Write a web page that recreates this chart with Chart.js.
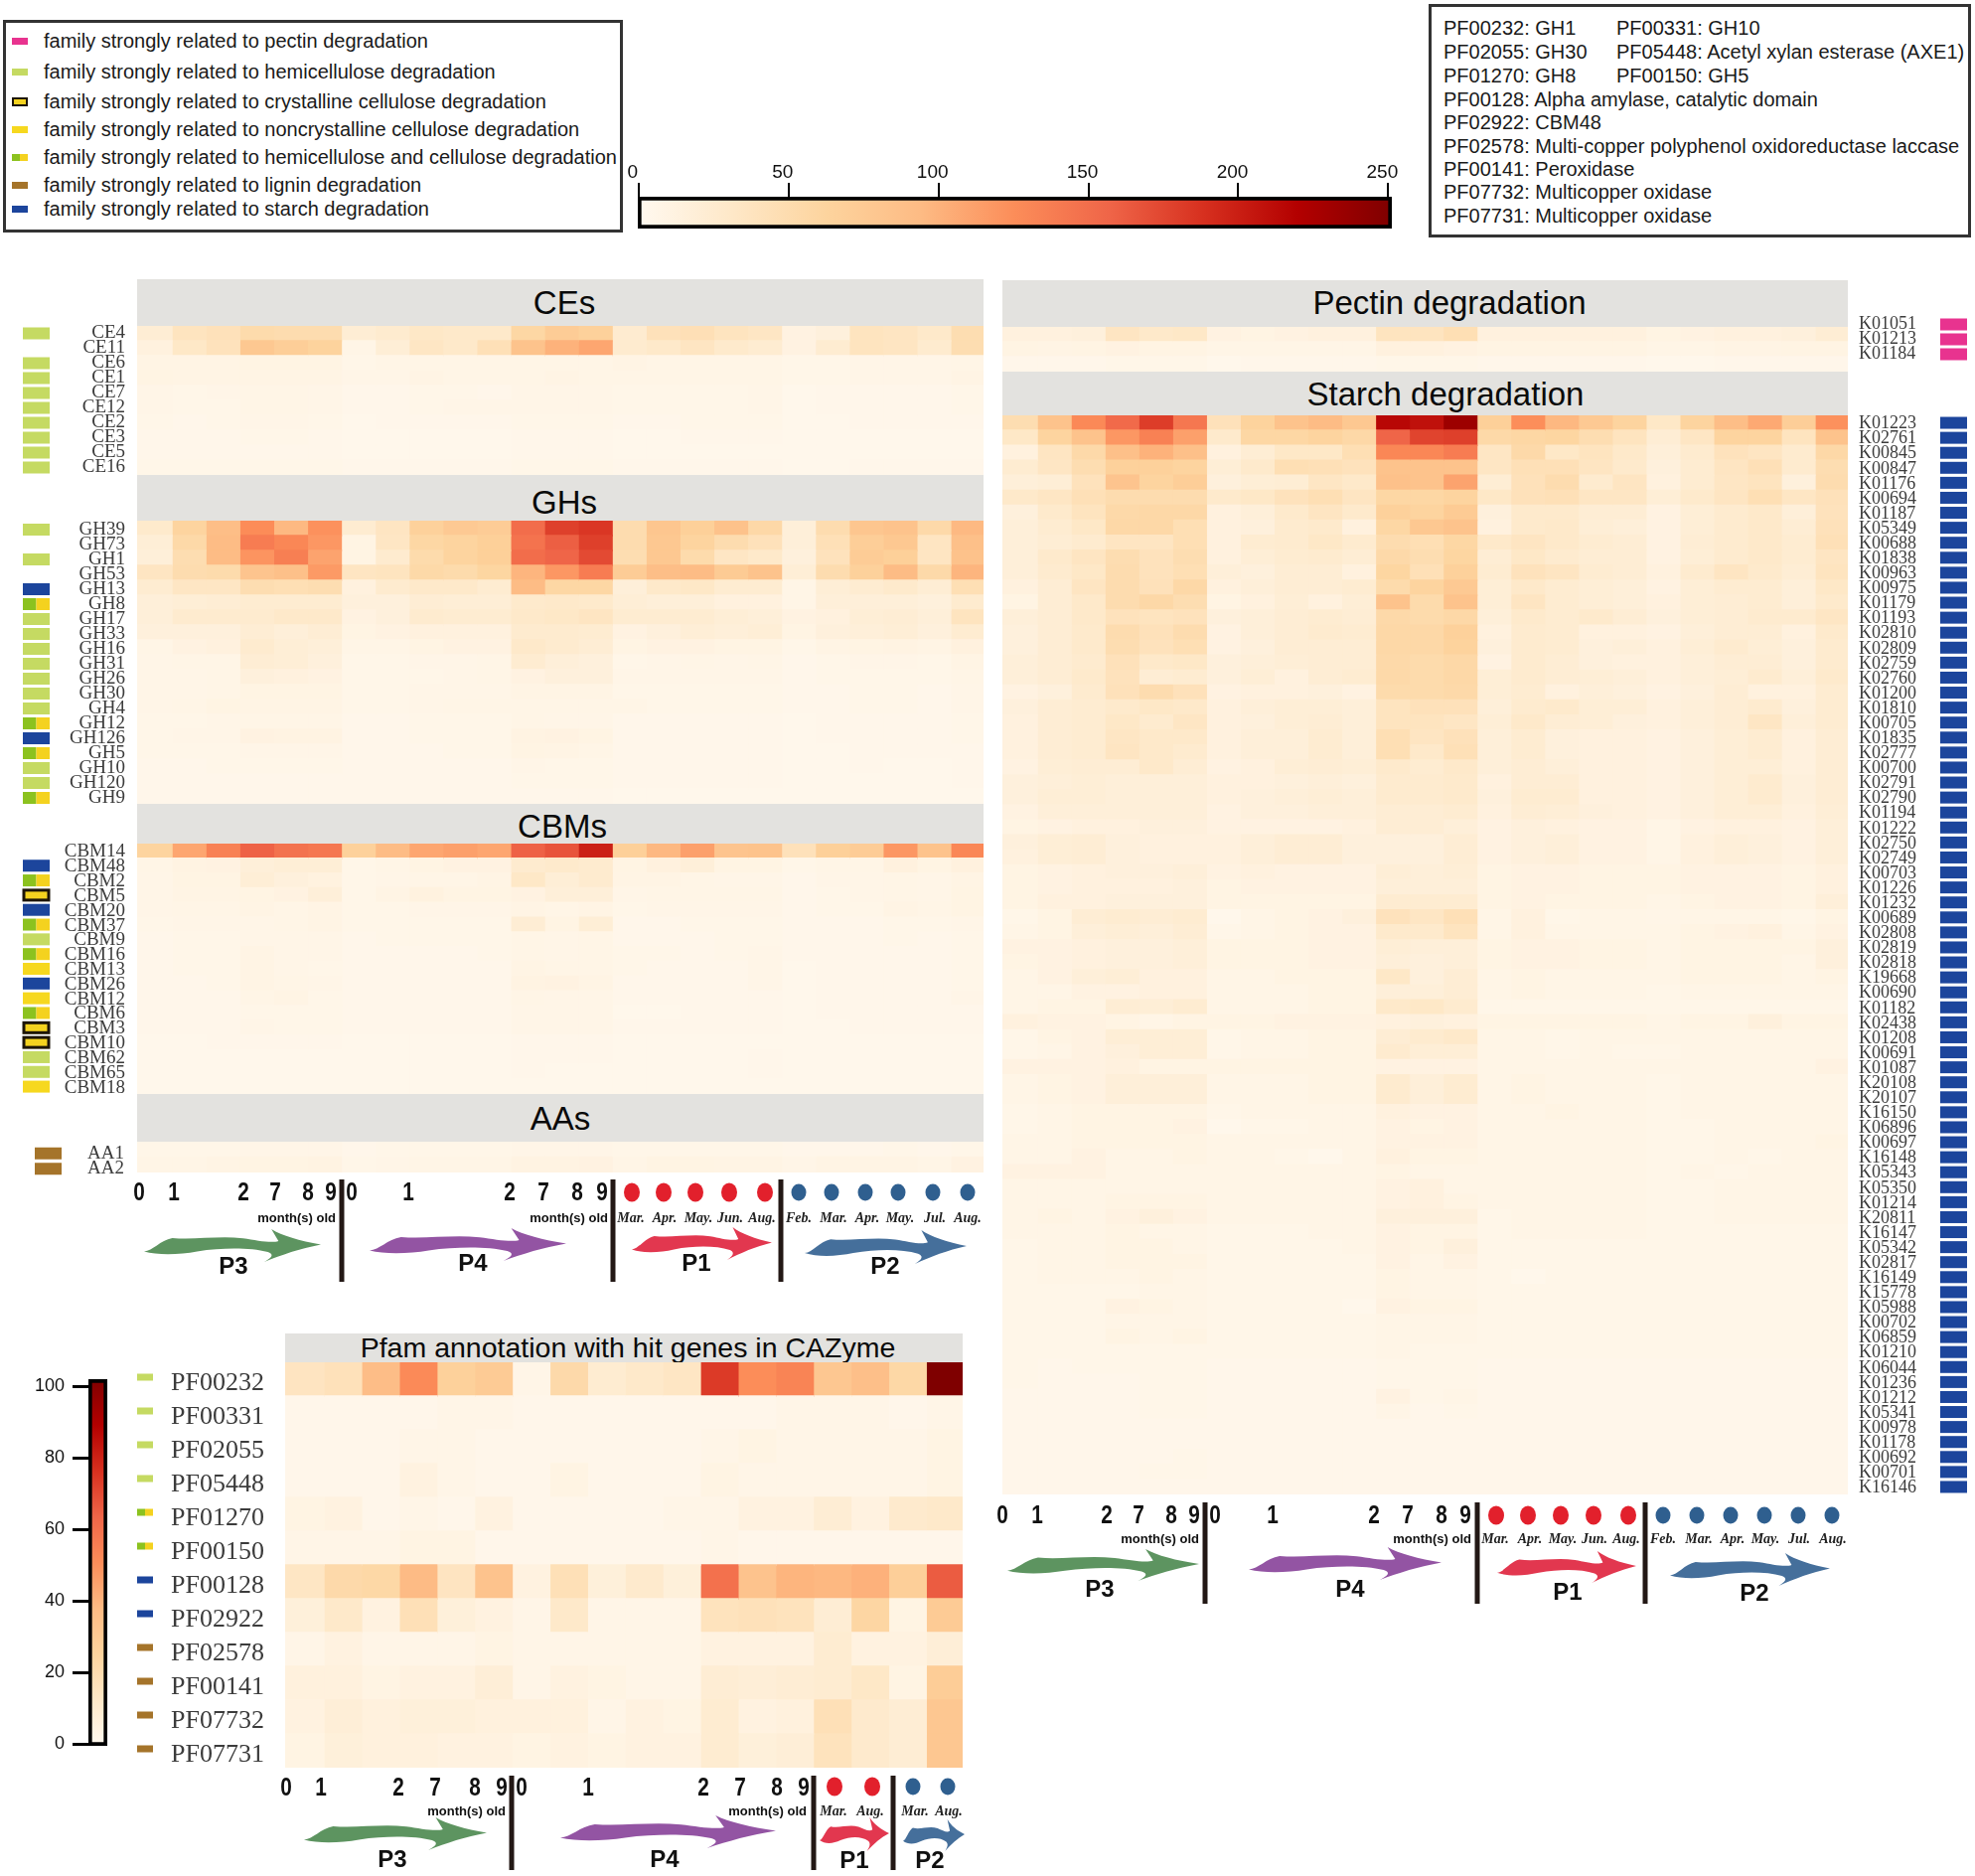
<!DOCTYPE html>
<html>
<head>
<meta charset="utf-8">
<title>CAZyme heatmaps</title>
<script src="https://cdn.jsdelivr.net/npm/chart.js@4"></script>
<style>
  html, body { margin: 0; padding: 0; background: #fff; }
  #page { position: relative; width: 1988px; height: 1888px; overflow: hidden; font-family: "Liberation Sans", sans-serif; color: #111; }
  .holder { position: absolute; }
  .band { position: absolute; background: #e3e2df; overflow: visible; }
  .band span { position: absolute; transform: translate(-50%, -50%); white-space: nowrap; color: #0a0a0a; }
  .box { position: absolute; border: 3px solid #333; box-sizing: border-box; background: #fff; }
  .line { position: absolute; white-space: nowrap; transform: translateY(-50%); color: #1a1a1a; }
  .swatch { position: absolute; }
  svg { position: absolute; left: 0; top: 0; }
</style>
</head>
<body>
<div id="page"></div>
<script>
// colour ramp, low to high
const rampColors = ["#fff9f0", "#fee8c8", "#fdd49e", "#fdbb84", "#fc8d59", "#ef6548", "#d7301f", "#b30000", "#7f0000"];

const colLabels = ["P3-0", "P3-1", "P3-2", "P3-7", "P3-8", "P3-9",
  "P4-a", "P4-b", "P4-c", "P4-d", "P4-e", "P4-f", "P4-g", "P4-h",
  "P1-Mar", "P1-Apr", "P1-May", "P1-Jun", "P1-Aug",
  "P2-Feb", "P2-Mar", "P2-Apr", "P2-May", "P2-Jul", "P2-Aug"];

const ceLabels = ["CE4", "CE11", "CE6", "CE1", "CE7", "CE12", "CE2", "CE3", "CE5", "CE16"];
const ceMarks = ["hemi", "", "hemi", "hemi", "hemi", "hemi", "hemi", "hemi", "hemi", "hemi"];
const ceValues = [
  [22,38,42,52,50,50,22,26,32,30,30,58,72,66,25,42,45,38,34,12,16,38,36,30,48],
  [14,32,40,78,70,64,8,20,34,30,44,84,100,108,26,30,36,28,24,12,24,38,36,26,48],
  [9,9,9,10,10,10,6,8,8,8,8,8,8,8,9,8,8,8,8,6,6,7,7,7,8],
  [10,9,9,9,9,9,7,7,9,8,8,8,9,8,8,8,8,8,8,6,6,7,7,7,9],
  [7,6,7,8,8,7,5,5,6,6,5,7,7,7,6,6,6,6,7,4,5,5,5,5,6],
  [7,6,6,8,8,7,5,5,6,7,7,7,7,7,6,6,6,6,7,4,5,5,5,5,6],
  [6,5,6,7,7,6,4,5,5,5,5,6,6,6,5,5,6,6,6,4,4,5,5,5,5],
  [5,5,5,6,6,5,4,4,4,4,4,5,5,5,4,4,5,5,5,4,4,4,4,4,4],
  [5,5,5,5,5,5,4,4,4,4,4,5,5,5,4,4,4,4,4,4,4,4,4,4,4],
  [6,6,6,6,6,6,5,5,5,5,5,6,6,6,5,5,5,5,5,4,4,5,5,5,5]
];

const ghLabels = ["GH39", "GH73", "GH1", "GH53", "GH13", "GH8", "GH17", "GH33", "GH16", "GH31", "GH26", "GH30", "GH4", "GH12", "GH126", "GH5", "GH10", "GH120", "GH9"];
const ghMarks = ["hemi", "", "hemi", "", "starch", "both", "hemi", "hemi", "hemi", "hemi", "hemi", "hemi", "hemi", "both", "starch", "both", "hemi", "hemi", "both"];
const ghValues = [
  [28,62,90,126,95,122,24,36,66,76,72,150,178,184,50,80,68,85,56,18,50,80,84,54,95],
  [20,55,92,138,130,118,10,34,58,62,68,145,160,178,50,78,62,50,42,18,44,70,78,36,88],
  [18,48,92,120,136,110,10,26,52,62,68,150,156,172,48,78,52,34,30,16,40,72,68,36,85],
  [36,50,52,82,88,116,36,38,55,52,60,98,118,138,72,90,92,74,84,20,50,66,92,54,98],
  [24,34,34,48,46,48,14,26,30,30,24,92,58,58,18,30,32,24,24,8,20,24,28,22,46],
  [18,20,22,24,24,24,16,16,22,20,20,28,30,28,20,18,18,14,14,8,18,18,18,16,26],
  [18,26,26,26,30,30,12,16,26,24,24,30,32,36,24,24,24,20,18,12,14,20,22,18,38],
  [16,16,16,22,18,22,10,12,14,14,14,26,26,24,12,16,20,18,20,10,16,18,20,16,24],
  [8,12,14,26,20,18,8,8,10,12,12,30,26,22,10,12,12,10,10,6,9,10,11,9,14],
  [7,8,8,22,20,16,6,6,7,7,8,24,18,16,6,7,8,7,8,5,6,7,7,6,9],
  [7,7,8,16,14,12,6,6,6,7,8,12,16,16,7,7,7,7,7,5,6,6,6,6,8],
  [7,7,8,10,10,10,6,6,7,7,7,9,9,9,6,6,6,6,6,5,5,6,6,5,7],
  [7,8,10,9,9,9,6,6,7,8,8,8,8,8,8,6,6,6,6,5,5,6,6,5,7],
  [6,6,7,8,8,8,5,5,6,6,6,8,7,7,5,5,5,5,5,4,5,5,5,5,6],
  [6,7,7,12,11,11,5,5,6,6,6,11,12,10,5,5,5,5,5,4,5,5,5,5,6],
  [6,6,6,7,7,7,5,5,5,6,6,10,9,8,5,5,5,5,5,4,4,5,5,5,5],
  [5,5,6,6,6,6,5,5,5,5,5,7,6,6,5,5,5,5,5,4,4,5,4,4,5],
  [5,5,5,5,5,5,5,5,5,5,5,6,6,6,5,5,5,5,5,4,4,4,4,4,5],
  [5,5,5,5,5,5,5,5,5,5,5,5,5,5,4,4,4,4,4,4,4,4,4,4,4]
];

const cbmLabels = ["CBM14", "CBM48", "CBM2", "CBM5", "CBM20", "CBM37", "CBM9", "CBM16", "CBM13", "CBM26", "CBM12", "CBM6", "CBM3", "CBM10", "CBM62", "CBM65", "CBM18"];
const cbmMarks = ["", "starch", "both", "crystal", "starch", "both", "hemi", "both", "non", "starch", "non", "both", "crystal", "crystal", "hemi", "hemi", "non"];
const cbmValues = [
  [62,108,134,158,146,142,66,92,108,112,108,158,166,198,68,96,112,82,84,42,68,72,118,84,130],
  [8,11,12,18,20,20,6,8,10,12,12,26,28,26,10,14,18,10,10,6,8,8,14,10,14],
  [7,10,10,20,16,13,6,7,8,8,9,32,20,26,9,9,8,7,7,5,7,7,8,7,9],
  [7,9,9,10,12,18,6,9,13,10,10,12,18,18,7,8,8,8,8,5,6,7,8,7,10],
  [7,8,8,9,8,9,6,6,7,7,7,9,8,9,6,7,7,7,7,5,6,6,9,8,10],
  [6,7,7,7,8,9,6,6,6,6,6,22,10,20,5,5,6,6,6,5,5,5,6,6,7],
  [5,6,6,7,7,7,5,6,6,6,6,8,7,8,5,5,5,6,6,5,5,5,6,5,6],
  [5,6,6,9,7,7,5,5,5,5,6,8,7,8,6,6,5,6,7,5,5,5,5,5,6],
  [5,6,6,9,7,6,5,5,5,5,5,9,8,8,6,5,5,5,7,4,5,5,5,5,6],
  [5,5,6,9,8,7,5,5,5,5,5,11,12,9,5,5,5,5,7,4,5,5,5,5,6],
  [5,5,5,8,9,6,5,5,5,5,5,8,7,7,5,5,5,5,5,4,5,5,5,5,7],
  [5,5,5,6,6,6,5,5,5,5,5,7,7,7,4,4,5,5,5,4,5,5,5,5,5],
  [5,5,5,7,6,6,5,5,5,5,5,7,7,7,5,5,5,5,5,4,4,5,5,5,5],
  [4,4,5,5,5,5,4,4,4,4,4,5,5,5,4,4,4,4,4,4,4,4,4,4,4],
  [4,4,4,4,4,4,4,4,4,4,4,5,5,5,4,4,4,4,5,4,4,4,4,4,4],
  [4,4,4,4,4,4,4,4,4,4,4,5,4,4,4,4,4,4,5,4,4,4,4,4,4],
  [4,4,4,4,4,4,4,4,4,4,4,4,4,4,4,4,4,4,4,4,4,4,4,4,4]
];

const aaLabels = ["AA1", "AA2"];
const aaMarks = ["lignin", "lignin"];
const aaValues = [
  [6,6,6,7,7,7,5,6,6,6,6,7,7,7,6,6,6,6,6,5,5,5,6,5,6],
  [8,8,9,10,10,11,6,7,8,8,8,11,11,12,8,10,10,9,9,7,9,9,9,8,12]
];

const pectinLabels = ["K01051", "K01213", "K01184"];
const pectinValues = [
  [14,14,16,36,30,32,12,10,12,14,14,38,38,46,14,14,14,14,14,10,12,14,14,16,22],
  [10,9,10,12,10,10,8,8,8,8,8,14,14,12,10,10,10,10,10,8,8,9,9,10,10],
  [5,5,5,6,6,6,4,5,5,5,5,6,6,6,5,5,5,5,5,4,4,5,5,5,5]
];

const starchLabels = ["K01223", "K02761", "K00845", "K00847", "K01176", "K00694", "K01187", "K05349", "K00688", "K01838", "K00963", "K00975", "K01179", "K01193", "K02810", "K02809", "K02759", "K02760", "K01200", "K01810", "K00705", "K01835", "K02777", "K00700", "K02791", "K02790", "K01194", "K01222", "K02750", "K02749", "K00703", "K01226", "K01232", "K00689", "K02808", "K02819", "K02818", "K19668", "K00690", "K01182", "K02438", "K01208", "K00691", "K01087", "K20108", "K20107", "K16150", "K06896", "K00697", "K16148", "K05343", "K05350", "K01214", "K20811", "K16147", "K05342", "K02817", "K16149", "K15778", "K05988", "K00702", "K06859", "K01210", "K06044", "K01236", "K01212", "K05341", "K00978", "K01178", "K00692", "K00701", "K16146"];
const starchValues = [
  [48,84,128,152,180,142,42,64,84,92,78,214,208,232,68,124,96,76,62,32,62,90,106,70,122],
  [32,62,84,118,134,112,28,58,58,62,56,156,176,178,55,58,60,48,38,22,34,62,62,38,84],
  [14,36,54,88,100,88,14,22,32,32,46,130,130,138,34,54,32,38,30,18,26,40,36,26,56],
  [24,34,48,66,66,62,20,28,46,44,40,84,84,84,34,44,44,36,28,16,24,36,44,26,48],
  [18,20,40,82,62,70,16,20,22,34,30,86,84,110,22,42,50,26,36,14,24,34,38,16,50],
  [30,34,44,50,50,50,28,32,40,46,36,58,58,62,32,42,44,34,34,20,28,36,46,34,42],
  [16,28,38,54,56,56,14,18,28,36,28,66,62,74,16,28,28,22,22,12,20,26,30,18,40],
  [18,24,32,56,56,46,14,16,26,28,14,58,78,84,14,28,30,20,18,12,20,26,30,22,42],
  [18,22,26,36,36,46,14,24,26,32,26,50,46,58,30,36,30,24,22,12,22,26,30,24,44],
  [18,28,36,48,40,48,14,20,24,26,22,54,48,60,22,32,26,22,22,12,20,26,30,24,36],
  [18,26,32,50,40,46,18,16,22,22,14,60,44,66,24,40,36,24,22,14,26,36,28,22,38],
  [14,22,36,50,42,56,14,18,22,22,24,52,62,76,20,30,24,20,18,12,20,24,24,18,32],
  [10,22,30,50,56,48,10,14,20,14,20,84,52,84,20,36,24,20,18,14,20,22,24,18,28],
  [18,22,30,40,38,40,16,18,22,24,22,54,52,56,18,28,24,28,22,16,20,22,26,26,34],
  [16,22,28,50,42,50,12,18,22,26,24,56,56,66,14,26,24,14,14,12,18,22,22,14,28],
  [16,22,28,48,40,46,12,16,22,22,22,56,56,64,16,26,24,16,18,14,20,26,20,16,26],
  [18,22,26,42,30,32,16,18,20,22,22,54,52,56,12,26,22,16,14,14,18,22,22,16,26],
  [18,22,28,40,22,24,16,20,14,22,24,54,52,56,20,26,22,20,18,14,18,20,26,18,28],
  [12,16,26,42,50,42,12,14,14,16,12,52,52,54,20,24,14,18,16,12,16,22,14,14,24],
  [16,22,24,28,32,30,14,18,20,20,18,38,42,42,18,26,28,20,20,14,18,22,26,16,24],
  [14,22,24,32,26,34,14,16,20,22,18,38,38,34,20,30,22,20,16,14,18,22,34,18,24],
  [14,22,24,34,30,30,14,18,18,24,18,46,36,42,18,24,16,14,14,12,16,20,24,14,22],
  [14,22,24,36,30,26,14,18,18,24,18,46,30,44,18,24,16,14,14,12,16,20,24,14,22],
  [12,20,22,22,30,22,12,14,20,22,20,28,24,30,18,22,18,14,14,12,16,20,20,14,22],
  [16,18,20,18,18,18,14,14,16,18,16,26,26,28,14,22,22,14,14,12,16,20,26,16,22],
  [16,20,20,18,18,18,14,16,18,20,18,26,26,28,16,24,24,14,14,12,16,20,26,16,22],
  [12,18,18,18,18,18,12,16,16,18,18,22,22,24,14,22,20,16,14,12,16,20,20,14,20],
  [10,12,14,14,16,16,12,12,12,12,14,22,22,18,12,16,14,12,12,8,12,14,14,12,18],
  [16,20,22,16,14,14,14,18,22,22,16,16,16,22,12,16,18,12,12,8,14,18,16,12,18],
  [14,20,22,16,14,14,14,18,22,22,16,16,16,22,12,16,18,12,12,8,14,18,16,12,18],
  [10,12,14,16,16,18,12,14,12,12,12,20,18,20,10,12,12,10,10,10,12,12,12,10,14],
  [10,12,14,14,14,16,10,12,12,12,12,18,18,18,10,12,12,10,10,10,12,12,12,10,14],
  [10,14,14,16,16,16,10,10,10,10,10,24,24,24,10,12,10,10,10,8,10,12,12,10,18],
  [6,10,22,24,22,24,4,8,10,12,16,40,34,44,8,14,6,8,8,7,8,8,8,6,10],
  [8,10,18,20,18,22,6,8,10,12,12,28,28,38,8,14,8,8,8,8,10,12,14,8,12],
  [12,12,14,16,16,18,10,10,10,12,12,20,18,18,10,12,12,10,10,8,10,10,10,10,16],
  [10,12,14,16,16,18,10,10,10,12,12,18,16,18,10,12,12,10,10,8,10,10,10,8,16],
  [8,12,18,20,14,14,8,8,10,10,10,32,16,22,8,10,8,8,8,8,10,10,10,8,10],
  [8,8,12,12,14,14,8,8,8,10,10,18,18,22,8,10,8,8,8,6,8,8,8,8,8],
  [8,10,10,22,20,24,8,8,8,10,10,30,32,26,6,6,6,6,6,6,6,6,6,6,6],
  [14,12,12,10,8,10,10,10,12,12,12,14,16,14,10,10,10,10,10,8,10,10,16,10,10],
  [6,10,12,20,20,20,6,8,8,10,10,22,26,30,8,8,6,8,8,8,8,8,8,8,8],
  [6,8,12,16,20,20,6,8,8,10,10,26,20,20,8,8,6,8,6,6,8,8,8,8,8],
  [12,12,12,14,10,10,10,10,10,10,10,12,12,12,8,8,8,8,8,8,8,8,8,8,12],
  [8,10,12,18,18,18,8,8,8,10,10,26,18,24,8,10,8,8,8,6,8,8,8,8,8],
  [8,10,12,18,18,18,8,8,8,10,10,26,18,24,8,10,8,8,8,6,8,8,8,8,8],
  [6,8,10,10,10,10,6,8,8,8,8,14,12,12,8,8,10,8,8,6,8,8,8,8,8],
  [6,8,10,10,10,12,4,6,6,8,8,12,10,12,8,8,8,8,8,6,6,8,8,8,8],
  [8,8,10,10,10,10,8,8,8,8,8,12,12,12,8,8,8,8,8,6,6,8,8,8,10],
  [8,8,12,8,8,10,8,8,6,4,8,14,10,10,8,8,8,8,8,6,6,8,6,8,8],
  [12,12,12,8,8,8,8,8,8,8,8,10,8,8,8,8,8,8,8,6,8,6,8,8,8],
  [8,8,8,8,8,8,8,8,8,8,8,12,14,8,8,8,8,8,8,6,6,8,8,8,8],
  [8,8,8,10,10,10,8,8,8,8,8,12,14,10,8,8,8,8,8,6,6,8,8,8,8],
  [8,10,8,12,16,12,8,8,8,8,8,16,16,16,6,8,8,8,8,6,6,8,8,8,8],
  [8,8,8,10,8,8,6,6,6,8,8,12,10,10,6,8,8,8,8,6,6,6,6,6,6],
  [6,8,8,10,10,8,6,6,6,6,8,12,10,16,6,6,6,6,6,6,6,6,6,6,6],
  [6,8,8,10,10,10,6,6,6,6,6,12,8,12,6,6,6,6,6,6,6,6,6,6,6],
  [6,8,8,8,10,8,6,6,6,6,6,10,8,8,6,4,6,6,6,6,6,6,6,6,6],
  [6,6,6,6,8,8,6,6,6,6,6,10,8,8,6,6,6,6,6,6,6,6,6,6,6],
  [6,6,6,12,10,8,6,6,6,6,4,12,10,10,6,6,6,6,6,6,6,6,6,6,6],
  [6,6,6,8,8,8,6,6,6,6,6,8,8,8,6,6,6,6,6,6,6,6,6,6,6],
  [6,6,6,10,8,10,6,6,6,6,6,8,8,8,6,6,6,6,6,6,6,6,6,6,6],
  [6,6,6,6,6,6,6,6,6,6,6,8,6,6,6,6,6,6,6,6,6,6,6,6,6],
  [6,5,6,6,6,6,5,5,5,5,5,6,6,6,5,5,5,5,5,5,5,5,5,5,5],
  [6,5,5,5,6,6,5,5,5,5,5,6,6,6,5,5,5,5,5,5,5,5,5,5,5],
  [5,5,5,5,6,6,5,5,5,5,5,12,6,8,5,5,5,5,5,5,5,5,5,5,5],
  [5,5,5,5,6,6,5,5,5,5,5,8,5,6,5,5,5,5,5,5,5,5,5,5,5],
  [5,5,5,5,5,5,5,5,5,5,5,5,5,5,5,5,5,5,5,5,5,5,5,5,5],
  [5,5,5,5,5,5,5,5,5,5,5,5,5,5,5,5,5,5,5,5,5,5,5,5,5],
  [5,5,5,5,5,6,5,5,5,5,5,5,5,5,5,5,5,5,5,5,5,5,5,5,5],
  [5,5,5,5,6,6,5,5,5,5,5,5,5,5,5,5,5,5,5,5,5,5,5,5,5],
  [5,5,5,5,5,5,5,5,5,5,5,5,5,5,5,5,5,5,5,5,5,5,5,5,5]
];

const pfamLabels = ["PF00232", "PF00331", "PF02055", "PF05448", "PF01270", "PF00150", "PF00128", "PF02922", "PF02578", "PF00141", "PF07732", "PF07731"];
const pfamMarks = ["hemi", "hemi", "hemi", "hemi", "both", "both", "starch", "starch", "lignin", "lignin", "lignin", "lignin"];
const pfamValues = [
  [15,17,37,52,27,30,3,22,10,12,14,74,51,54,32,36,23,102],
  [2,2,2,2,3,3,2,2,2,2,2,2,2,3,3,3,2,3],
  [2,2,2,3,3,2,2,2,2,2,2,3,4,3,3,3,3,4],
  [2,2,2,5,3,2,2,4,2,2,2,4,3,3,3,3,3,4],
  [4,5,2,3,2,5,2,2,2,2,3,3,5,5,9,5,11,12],
  [3,3,3,4,4,2,2,2,2,2,2,3,2,2,2,2,2,2],
  [14,22,23,38,15,34,5,18,7,11,7,60,34,40,39,41,28,66],
  [7,12,5,18,7,5,3,12,3,3,3,16,17,16,9,24,4,30],
  [3,5,3,3,3,4,3,3,3,3,3,5,5,5,10,5,5,8],
  [6,6,4,5,5,8,3,5,4,3,3,9,8,9,10,13,4,29],
  [5,8,6,7,7,6,6,6,3,5,4,10,5,6,18,11,9,32],
  [4,7,6,6,5,5,4,5,4,5,5,10,7,8,16,11,9,32]
];

const topBarTicks = [0, 50, 100, 150, 200, 250];
const sideBarTicks = [0, 20, 40, 60, 80, 100];

const legendTexts = [
  ["pectin", "family strongly related to pectin degradation"],
  ["hemi", "family strongly related to hemicellulose degradation"],
  ["crystal", "family strongly related to crystalline cellulose degradation"],
  ["non", "family strongly related to noncrystalline cellulose degradation"],
  ["both", "family strongly related to hemicellulose and cellulose degradation"],
  ["lignin", "family strongly related to lignin degradation"],
  ["starch", "family strongly related to starch degradation"]
];
const pfamNotes = [
  ["PF00232: GH1", "PF00331: GH10"],
  ["PF02055: GH30", "PF05448: Acetyl xylan esterase (AXE1)"],
  ["PF01270: GH8", "PF00150: GH5"],
  ["PF00128: Alpha amylase, catalytic domain"],
  ["PF02922: CBM48"],
  ["PF02578: Multi-copper polyphenol oxidoreductase laccase"],
  ["PF00141: Peroxidase"],
  ["PF07732: Multicopper oxidase"],
  ["PF07731: Multicopper oxidase"]
];

const page = document.getElementById("page");
const markColors = { hemi: "#c5da62", starch: "#1c459c", non: "#f6d81f", crystal: "#f4d21f", lignin: "#a5742a", pectin: "#e8338f" };
const headroom = 14;

function lerpColor(v, max) {
  const t = Math.max(0, Math.min(1, v / max)) * (rampColors.length - 1);
  const i = Math.min(rampColors.length - 2, Math.floor(t));
  const f = t - i;
  const a = rampColors[i], b = rampColors[i + 1];
  const ch = (s, p) => parseInt(s.substr(p, 2), 16);
  const mix = (p) => Math.round(ch(a, p) + (ch(b, p) - ch(a, p)) * f);
  return "rgb(" + mix(1) + "," + mix(3) + "," + mix(5) + ")";
}

function addCanvas(left, top, width, height) {
  const holder = document.createElement("div");
  holder.className = "holder";
  holder.style.cssText = "left:" + left + "px;top:" + top + "px;width:" + width + "px;height:" + height + "px";
  const canvas = document.createElement("canvas");
  canvas.width = width;
  canvas.height = height;
  canvas.style.cssText = "display:block;width:" + width + "px;height:" + height + "px";
  holder.appendChild(canvas);
  page.appendChild(holder);
  return canvas;
}

// little coloured tags beside the row labels, placed through the y scale
function rowMarkPlugin(marks, x, w, h, dy) {
  return {
    id: "rowMarks",
    afterDraw(chart) {
      const c = chart.ctx;
      marks.forEach((kind, i) => {
        if (!kind) return;
        const y = chart.scales.y.getPixelForValue(i) - h / 2 + dy;
        if (kind === "both") {
          c.fillStyle = "#8cc21f";
          c.fillRect(x, y, w / 2, h);
          c.fillStyle = "#f4d21f";
          c.fillRect(x + w / 2, y, w / 2, h);
        } else {
          c.fillStyle = markColors[kind];
          c.fillRect(x, y, w, h);
          if (kind === "crystal") {
            c.strokeStyle = "#1d1508";
            c.lineWidth = 3;
            c.strokeRect(x + 1, y + 1, w - 2, h - 2);
          }
        }
      });
    }
  };
}

// one heatmap panel: every column is a dataset of floating horizontal bars
function heatmap(p) {
  const cols = p.values[0].length;
  const canvas = addCanvas(p.left, p.top - headroom, p.labelWidth + p.plotWidth, p.plotHeight + headroom * 2);
  const datasets = [];
  for (let j = 0; j < cols; j++) {
    datasets.push({
      label: p.columns ? p.columns[j] : String(j),
      data: p.values.map(() => [j, j === cols - 1 ? cols : j + 1.04]),
      backgroundColor: p.values.map((r) => lerpColor(r[j], p.max)),
      borderWidth: 0,
      grouped: false,
      barThickness: p.plotHeight / p.labels.length + 0.8
    });
  }
  new Chart(canvas, {
    type: "bar",
    data: { labels: p.labels, datasets: datasets },
    options: {
      indexAxis: "y",
      responsive: false,
      animation: false,
      devicePixelRatio: 1,
      layout: { padding: { top: headroom, bottom: headroom } },
      plugins: { legend: { display: false }, tooltip: { enabled: false }, title: { display: false } },
      scales: {
        x: { type: "linear", display: false, min: 0, max: cols },
        y: {
          position: p.side,
          grid: { display: false, drawTicks: false },
          border: { display: false },
          ticks: {
            autoSkip: false,
            padding: p.tickPad,
            labelOffset: p.labelDy || 0,
            color: "#3c3c3c",
            font: { family: "Liberation Serif", size: p.fontSize }
          },
          afterFit(s) {
            s.width = p.labelWidth;
            s.paddingTop = 0;
            s.paddingBottom = 0;
          }
        }
      }
    },
    plugins: [rowMarkPlugin(p.marks, p.markX, p.markW, p.markH, p.markDy || 0)]
  });
}

function band(left, top, width, height, text, centre, size, dy) {
  const d = document.createElement("div");
  d.className = "band";
  d.style.cssText = "left:" + left + "px;top:" + top + "px;width:" + width + "px;height:" + height + "px";
  const s = document.createElement("span");
  s.textContent = text;
  s.style.cssText = "left:" + (centre - left) + "px;top:" + (height / 2 + (dy || 0)) + "px;font-size:" + size + "px";
  d.appendChild(s);
  page.appendChild(d);
}

// left column
band(138, 281, 852, 47, "CEs", 568, 33);
band(138, 478, 852, 46, "GHs", 568, 33, 5);
band(138, 809, 852, 40, "CBMs", 566, 33, 3);
band(138, 1101, 852, 48, "AAs", 564, 33, 1);
const leftPanel = { left: 0, labelWidth: 138, plotWidth: 852, side: "left", tickPad: 12, fontSize: 19, max: 250, markX: 23, markW: 27, markH: 12, columns: colLabels };
heatmap({ ...leftPanel, top: 328, plotHeight: 150, labels: ceLabels, values: ceValues, marks: ceMarks });
heatmap({ ...leftPanel, top: 524, plotHeight: 285, labels: ghLabels, values: ghValues, marks: ghMarks, labelDy: 2, markDy: 1.5 });
heatmap({ ...leftPanel, top: 849, plotHeight: 252, labels: cbmLabels, values: cbmValues, marks: cbmMarks, labelDy: 1 });
heatmap({ ...leftPanel, top: 1149, plotHeight: 31, labels: aaLabels, values: aaValues, marks: aaMarks, markX: 35, labelDy: 4, markDy: 4, tickPad: 13 });

// right column
band(1009, 282, 851, 47, "Pectin degradation", 1459, 33, -1);
band(1009, 374, 851, 44, "Starch degradation", 1455, 33, 1);
const rightPanel = { left: 1009, labelWidth: 128, plotWidth: 851, side: "right", tickPad: 11, fontSize: 18, max: 250, markX: 944, markW: 27, markH: 12, columns: colLabels };
heatmap({ ...rightPanel, top: 329, plotHeight: 45, labels: pectinLabels, values: pectinValues, marks: pectinLabels.map(() => "pectin"), labelDy: -10, markDy: -10 });
heatmap({ ...rightPanel, top: 418, plotHeight: 1086, labels: starchLabels, values: starchValues, marks: starchLabels.map(() => "starch"), labelDy: 1 });

// pfam block
band(287, 1342, 682, 29, "Pfam annotation with hit genes in CAZyme", 632, 28.5, -1);
heatmap({ left: 130, top: 1371, labelWidth: 157, plotWidth: 682, plotHeight: 408, side: "left", tickPad: 21, fontSize: 26, max: 102, markX: 8, markW: 16, markH: 7, markDy: -2, labelDy: 4, labels: pfamLabels, values: pfamValues, marks: pfamMarks });

// colour bars
function gradientBar(ctx, area, horizontal) {
  const g = horizontal
    ? ctx.createLinearGradient(area.left, 0, area.right, 0)
    : ctx.createLinearGradient(0, area.bottom, 0, area.top);
  rampColors.forEach((c, i) => g.addColorStop(i / (rampColors.length - 1), c));
  return g;
}

new Chart(addCanvas(622, 160, 799, 70), {
  type: "bar",
  data: {
    labels: [""],
    datasets: [{
      data: [[-0.3, 251.2]],
      borderColor: "#000",
      borderWidth: 4,
      borderSkipped: false,
      barPercentage: 1,
      categoryPercentage: 1,
      backgroundColor(c) {
        return c.chart.chartArea ? gradientBar(c.chart.ctx, c.chart.chartArea, true) : "#fff";
      }
    }]
  },
  options: {
    indexAxis: "y",
    responsive: false,
    animation: false,
    devicePixelRatio: 1,
    layout: { padding: { left: 20, right: 20 } },
    plugins: { legend: { display: false }, tooltip: { enabled: false } },
    scales: {
      x: {
        type: "linear",
        position: "top",
        min: -0.3,
        max: 251.2,
        afterBuildTicks(s) { s.ticks = topBarTicks.map((v) => ({ value: v })); },
        afterFit(s) { s.height = 38; },
        grid: { drawOnChartArea: false, color: "#000", lineWidth: 2, tickLength: 14, tickColor: "#000" },
        border: { display: false },
        ticks: { color: "#111", padding: -1, labelOffset: -6, maxRotation: 0, font: { family: "Liberation Sans", size: 19 } }
      },
      y: { display: false }
    }
  }
});

new Chart(addCanvas(30, 1380, 80, 385), {
  type: "bar",
  data: {
    labels: [""],
    datasets: [{
      data: [[-0.5, 102]],
      borderColor: "#000",
      borderWidth: 4,
      borderSkipped: false,
      barPercentage: 1,
      categoryPercentage: 1,
      backgroundColor(c) {
        return c.chart.chartArea ? gradientBar(c.chart.ctx, c.chart.chartArea, false) : "#fff";
      }
    }]
  },
  options: {
    responsive: false,
    animation: false,
    devicePixelRatio: 1,
    layout: { padding: { top: 8, bottom: 8, right: 2 } },
    plugins: { legend: { display: false }, tooltip: { enabled: false } },
    scales: {
      x: { display: false },
      y: {
        type: "linear",
        min: -0.5,
        max: 102,
        afterBuildTicks(s) { s.ticks = sideBarTicks.map((v) => ({ value: v })); },
        afterFit(s) {
          s.width = 59;
          s.paddingTop = 0;
          s.paddingBottom = 0;
        },
        grid: { drawOnChartArea: false, color: "#000", lineWidth: 3, tickLength: 16, tickColor: "#000" },
        border: { display: false },
        ticks: { color: "#111", padding: 8, font: { family: "Liberation Sans", size: 18 } }
      }
    }
  }
});

// legend box top left
function addBox(left, top, width, height) {
  const b = document.createElement("div");
  b.className = "box";
  b.style.cssText = "left:" + left + "px;top:" + top + "px;width:" + width + "px;height:" + height + "px";
  page.appendChild(b);
}
function addLine(text, x, y, size) {
  const t = document.createElement("div");
  t.className = "line";
  t.textContent = text;
  t.style.cssText = "left:" + x + "px;top:" + y + "px;font-size:" + size + "px";
  page.appendChild(t);
}
addBox(3, 20, 624, 214);
const legendY = [41, 72, 102, 130, 158, 186, 210];
legendTexts.forEach((e, i) => {
  addLine(e[1], 44, legendY[i], 20);
  const y = legendY[i] - 3;
  const sw = document.createElement("div");
  sw.className = "swatch";
  if (e[0] === "both") {
    sw.style.cssText = "left:12px;top:" + y + "px;width:16px;height:7px;background:linear-gradient(90deg,#8cc21f 50%,#f4d21f 50%)";
  } else if (e[0] === "crystal") {
    sw.style.cssText = "left:12px;top:" + (y - 1) + "px;width:16px;height:9px;box-sizing:border-box;border:2px solid #1d1508;background:#f4d21f";
  } else {
    sw.style.cssText = "left:12px;top:" + y + "px;width:16px;height:7px;background:" + markColors[e[0]];
  }
  page.appendChild(sw);
});

addBox(1438, 4, 546, 235);
const noteY = [28, 52, 76, 100, 123, 147, 170, 193, 217];
pfamNotes.forEach((n, i) => {
  addLine(n[0], 1453, noteY[i], 20);
  if (n[1]) addLine(n[1], 1627, noteY[i], 20);
});

// hand drawn looking annotation strips under each heatmap
const svgNS = "http://www.w3.org/2000/svg";
const svg = document.createElementNS(svgNS, "svg");
svg.setAttribute("width", 1988);
svg.setAttribute("height", 1888);
page.appendChild(svg);

function el(name, attrs, text) {
  const n = document.createElementNS(svgNS, name);
  for (const k in attrs) n.setAttribute(k, attrs[k]);
  if (text) n.textContent = text;
  svg.appendChild(n);
}

function arrow(x0, x1, y0, y1, color) {
  const w = x1 - x0, h = y1 - y0;
  const p = (q) => (x0 + q[0] * w).toFixed(1) + " " + (y0 + q[1] * h).toFixed(1);
  const top = [[0.05,0.66],[0.09,0.34],[0.16,0.27],[0.28,0.33],[0.42,0.2],[0.56,0.28],[0.64,0.34],[0.72,0.44],[0.76,0.36]];
  const rest = [[0.78,0.2],[0.88,0.36],[1,0.47],[0.88,0.6],[0.78,0.78],[0.68,1],[0.72,0.88],[0.74,0.78],[0.7,0.7],[0.6,0.56],[0.45,0.56],[0.3,0.68],[0.2,0.78],[0.08,0.8],[0,0.68]];
  const d = "M" + p([0, 0.68]) + " C" + top.map(p).join(" ") + " L" + p([0.72, 0]) + " C" + rest.map(p).join(" ") + " Z";
  el("path", { d: d, fill: color });
}

function strip(s) {
  s.numbers.forEach((n) => {
    el("text", { transform: "translate(" + n[1] + "," + (s.numY + 9) + ") scale(0.8,1)", "text-anchor": "middle", "font-family": "Liberation Sans", "font-weight": "bold", "font-size": 26, fill: "#111" }, n[0]);
  });
  s.oldEnds.forEach((x) => {
    el("text", { x: x, y: s.monthY + 5, "text-anchor": "end", "font-family": "Liberation Sans", "font-weight": "bold", "font-size": 13, fill: "#111" }, "month(s) old");
  });
  s.seps.forEach((x) => {
    el("rect", { x: x - 2.5, y: s.sepTop, width: 5, height: s.sepBottom - s.sepTop, fill: "#231815" });
  });
  s.reds.forEach((x) => el("ellipse", { cx: x, cy: s.dotY, rx: 8, ry: 9.5, fill: "#e2202c" }));
  s.blues.forEach((x) => el("ellipse", { cx: x, cy: s.dotY, rx: 7.5, ry: 8.5, fill: "#2f5f8f" }));
  s.months.forEach((m) => {
    el("text", { x: m[1], y: s.monthY + 5, "text-anchor": "middle", "font-family": "Liberation Serif", "font-style": "italic", "font-weight": "bold", "font-size": 14, fill: "#222" }, m[0]);
  });
  s.arrows.forEach((a) => arrow(a[0], a[1], a[2], a[3], a[4]));
  s.groups.forEach((g) => {
    el("text", { x: g[1], y: g[2] + 9, "text-anchor": "middle", "font-family": "Liberation Sans", "font-weight": "bold", "font-size": 24, fill: "#111" }, g[0]);
  });
}

const green = "#5d9460", purple = "#9354a3", red = "#e2374f", blue = "#456f9b";

strip({
  numY: 1199, monthY: 1225, dotY: 1200, sepTop: 1187, sepBottom: 1290,
  numbers: [["0",140],["1",175],["2",245],["7",277],["8",310],["9",333],["0",354],["1",411],["2",513],["7",547],["8",581],["9",606]],
  oldEnds: [338, 612], seps: [344, 617, 786],
  reds: [636, 668, 700, 734, 770], blues: [804, 837, 871, 904, 939, 974],
  months: [["Mar.",635],["Apr.",669],["May.",703],["Jun.",735],["Aug.",767],["Feb.",804],["Mar.",839],["Apr.",873],["May.",906],["Jul.",941],["Aug.",974]],
  arrows: [[145,323,1237,1270,green],[372,570,1236,1269,purple],[636,777,1235,1268,red],[810,973,1238,1272,blue]],
  groups: [["P3",235,1273],["P4",476,1270],["P1",701,1270],["P2",891,1273]]
});

strip({
  numY: 1524, monthY: 1548, dotY: 1525, sepTop: 1512, sepBottom: 1614,
  numbers: [["0",1009],["1",1044],["2",1114],["7",1146],["8",1179],["9",1202],["0",1223],["1",1281],["2",1383],["7",1417],["8",1451],["9",1475]],
  oldEnds: [1207, 1481], seps: [1213, 1487, 1656],
  reds: [1506, 1538, 1571, 1604, 1639], blues: [1674, 1708, 1742, 1776, 1810, 1844],
  months: [["Mar.",1505],["Apr.",1540],["May.",1573],["Jun.",1605],["Aug.",1637],["Feb.",1674],["Mar.",1710],["Apr.",1744],["May.",1777],["Jul.",1811],["Aug.",1845]],
  arrows: [[1014,1207,1559,1591,green],[1257,1451,1557,1590,purple],[1507,1647,1561,1593,red],[1681,1842,1563,1596,blue]],
  groups: [["P3",1107,1598],["P4",1359,1598],["P1",1578,1601],["P2",1766,1602]]
});

strip({
  numY: 1798, monthY: 1822, dotY: 1798, sepTop: 1787, sepBottom: 1882,
  numbers: [["0",288],["1",323],["2",401],["7",438],["8",478],["9",505],["0",525],["1",592],["2",708],["7",745],["8",782],["9",809]],
  oldEnds: [509, 812], seps: [515, 819, 899],
  reds: [840, 878], blues: [919, 954],
  months: [["Mar.",839],["Aug.",876],["Mar.",921],["Aug.",955]],
  arrows: [[306,490,1829,1862,green],[564,781,1827,1860,purple],[825,895,1829,1863,red],[909,971,1831,1863,blue]],
  groups: [["P3",395,1870],["P4",669,1870],["P1",860,1871],["P2",936,1871]]
});
</script>
</body>
</html>
